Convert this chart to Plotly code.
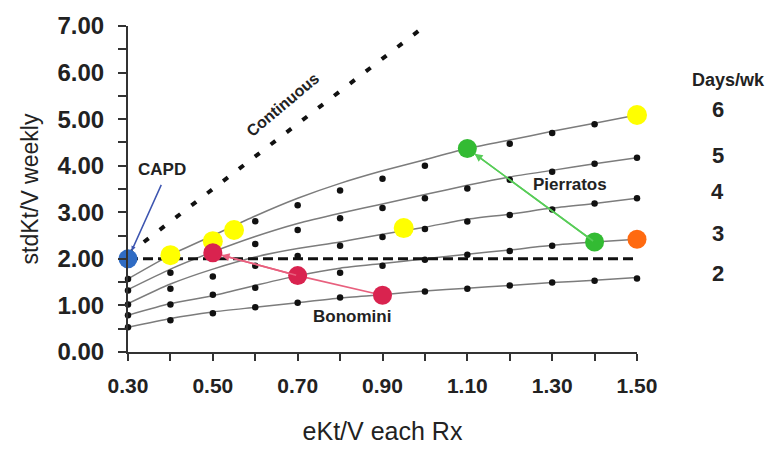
import plotly.graph_objects as go

# Single-session eKt/V values (x axis)
ektv = [0.3, 0.4, 0.5, 0.6, 0.7, 0.8, 0.9, 1.0, 1.1, 1.2, 1.3, 1.4, 1.5]

# Smoothed stdKt/V curves for each schedule (sessions per week)
curve_6 = [1.57, 2.08, 2.50, 2.92, 3.30, 3.62, 3.89, 4.13, 4.37, 4.55, 4.74, 4.91, 5.09]
curve_5 = [1.34, 1.78, 2.15, 2.48, 2.76, 2.98, 3.18, 3.38, 3.58, 3.76, 3.90, 4.04, 4.17]
curve_4 = [1.04, 1.46, 1.78, 2.04, 2.22, 2.36, 2.53, 2.68, 2.85, 2.96, 3.09, 3.19, 3.30]
curve_3 = [0.79, 1.04, 1.21, 1.43, 1.64, 1.80, 1.90, 2.00, 2.10, 2.19, 2.29, 2.36, 2.42]
curve_2 = [0.53, 0.72, 0.86, 0.96, 1.06, 1.16, 1.23, 1.31, 1.37, 1.43, 1.49, 1.54, 1.60]

# Computed points for each schedule
dots_6 = [1.57, 2.07, 2.38, 2.81, 3.15, 3.47, 3.72, 4.00, 4.37, 4.47, 4.70, 4.89, 5.09]
dots_5 = [1.32, 1.70, 2.13, 2.32, 2.62, 2.87, 3.09, 3.30, 3.51, 3.70, 3.87, 4.04, 4.17]
dots_4 = [1.02, 1.36, 1.62, 1.85, 2.06, 2.28, 2.47, 2.64, 2.80, 2.94, 3.06, 3.19, 3.30]
dots_3 = [0.79, 1.02, 1.23, 1.38, 1.64, 1.70, 1.85, 1.98, 2.09, 2.17, 2.28, 2.36, 2.42]
dots_2 = [0.53, 0.68, 0.83, 0.96, 1.06, 1.17, 1.26, 1.30, 1.36, 1.43, 1.49, 1.53, 1.58]

curves = [curve_6, curve_5, curve_4, curve_3, curve_2]
dots = [dots_6, dots_5, dots_4, dots_3, dots_2]
days_labels = ["6", "5", "4", "3", "2"]
days_label_y = [5.21, 4.23, 3.45, 2.55, 1.68]

# Continuous therapy line and the 2.0 target
continuous_x = [0.3, 1.0]
continuous_y = [2.1, 7.0]
target_x = [0.3, 1.5]
target_y = [2.0, 2.0]

# Published studies
capd_x, capd_y = [0.3], [2.0]
yellow_x = [0.4, 0.5, 0.55, 0.95, 1.5]
yellow_y = [2.08, 2.38, 2.62, 2.66, 5.09]
bonomini_x = [0.9, 0.7, 0.5]
bonomini_y = [1.22, 1.64, 2.13]
pierratos_x = [1.4, 1.1]
pierratos_y = [2.36, 4.37]
tassin_x, tassin_y = [1.5], [2.42]

FONT = "Arial"
INK = "#222"
fig = go.Figure()

for c in curves:
    fig.add_trace(go.Scatter(x=ektv, y=c, mode="lines",
                             line=dict(color="#7c7c7c", width=1.5, shape="spline", smoothing=0.6)))
for d in dots:
    fig.add_trace(go.Scatter(x=ektv, y=d, mode="markers", marker=dict(color="#111", size=6.5), cliponaxis=False))

fig.add_trace(go.Scatter(x=target_x, y=target_y, mode="lines", line=dict(color="#111", width=3, dash="10px,5px")))
fig.add_trace(go.Scatter(x=continuous_x, y=continuous_y, mode="lines",
                         line=dict(color="#111", width=4, dash="6px,14px"), cliponaxis=False))

fig.add_trace(go.Scatter(x=bonomini_x, y=bonomini_y, mode="lines", line=dict(color="#e8607e", width=1.6)))
fig.add_trace(go.Scatter(x=pierratos_x, y=pierratos_y, mode="lines", line=dict(color="#58cc58", width=1.6)))

big = 19
fig.add_trace(go.Scatter(x=yellow_x, y=yellow_y, mode="markers", marker=dict(color="#ffff00", size=big + 1), cliponaxis=False))
fig.add_trace(go.Scatter(x=bonomini_x, y=bonomini_y, mode="markers", marker=dict(color="#d9234f", size=big), cliponaxis=False))
fig.add_trace(go.Scatter(x=pierratos_x, y=pierratos_y, mode="markers", marker=dict(color="#33bb33", size=big), cliponaxis=False))
fig.add_trace(go.Scatter(x=tassin_x, y=tassin_y, mode="markers", marker=dict(color="#ff6a10", size=big), cliponaxis=False))
fig.add_trace(go.Scatter(x=capd_x, y=capd_y, mode="markers", marker=dict(color="#2f6cc4", size=big), cliponaxis=False))

ann = []
# arrowheads pointing at the study results
ann.append(dict(x=bonomini_x[2], y=bonomini_y[2], ax=bonomini_x[1], ay=bonomini_y[1], xref="x", yref="y",
                axref="x", ayref="y", showarrow=True, arrowhead=2, arrowsize=1, arrowwidth=1.6,
                arrowcolor="#e8607e", standoff=9, text=""))
ann.append(dict(x=pierratos_x[1], y=pierratos_y[1], ax=pierratos_x[0], ay=pierratos_y[0], xref="x", yref="y",
                axref="x", ayref="y", showarrow=True, arrowhead=2, arrowsize=1, arrowwidth=1.6,
                arrowcolor="#58cc58", standoff=9, text=""))
ann.append(dict(x=capd_x[0], y=capd_y[0], ax=0.38, ay=3.62, xref="x", yref="y",
                axref="x", ayref="y", showarrow=True, arrowhead=2, arrowsize=0.6, arrowwidth=1.5,
                arrowcolor="#3d55b0", standoff=9, text=""))

bold = dict(family=FONT, size=17, color=INK, weight="bold")
ann.append(dict(x=0.38, y=3.91, text="CAPD", showarrow=False, font=bold, xref="x", yref="y"))
ann.append(dict(x=0.665, y=5.32, text="Continuous", showarrow=False, font=dict(family=FONT, size=16, color=INK, weight="bold"),
                textangle=-40, xref="x", yref="y"))
ann.append(dict(x=1.342, y=3.60, text="Pierratos", showarrow=False, font=bold, xref="x", yref="y"))
ann.append(dict(x=1.512, y=1.96, text="Tassin", showarrow=False, font=bold, xref="x", yref="y"))
ann.append(dict(x=0.828, y=0.77, text="Bonomini", showarrow=False, font=bold, xref="x", yref="y"))

ann.append(dict(x=1.179, y=5.83, text="Days/wk", showarrow=False, xref="paper", yref="y", xanchor="center",
                font=dict(family=FONT, size=18, color=INK, weight="bold")))
for lab, yy in zip(days_labels, days_label_y):
    ann.append(dict(x=1.159, y=yy, text=lab, showarrow=False, xref="paper", yref="y", xanchor="center",
                    font=dict(family=FONT, size=22, color=INK, weight="bold")))

fig.update_layout(
    width=774, height=453,
    margin=dict(l=128, r=137, t=23, b=101),
    paper_bgcolor="white", plot_bgcolor="white",
    showlegend=False,
    annotations=ann,
)
fig.update_xaxes(
    range=[0.3, 1.5], tick0=0.3, dtick=0.2, tickformat=".2f",
    showline=True, linecolor="#333", linewidth=2,
    ticks="outside", ticklen=7, tickwidth=2, tickcolor="#333",
    minor=dict(dtick=0.1, tick0=0.3, ticks="outside", ticklen=7, tickwidth=2, tickcolor="#333"),
    showgrid=False, zeroline=False, ticklabelstandoff=7,
    tickfont=dict(family=FONT, size=21, color=INK, weight="bold"),
    title=dict(text="eKt/V each Rx", font=dict(family=FONT, size=25, color=INK), standoff=26),
)
fig.update_yaxes(
    range=[0, 7], dtick=1, tickformat=".2f",
    showline=True, linecolor="#333", linewidth=2,
    ticks="outside", ticklen=8, tickwidth=2, tickcolor="#333",
    minor=dict(dtick=0.5, ticks="outside", ticklen=8, tickwidth=2, tickcolor="#333"),
    showgrid=False, zeroline=False, ticklabelstandoff=9,
    tickfont=dict(family=FONT, size=24, color=INK, weight="bold"),
    title=dict(text="stdKt/V weekly", font=dict(family=FONT, size=23, color=INK), standoff=12),
)

fig.write_html("out.html")
